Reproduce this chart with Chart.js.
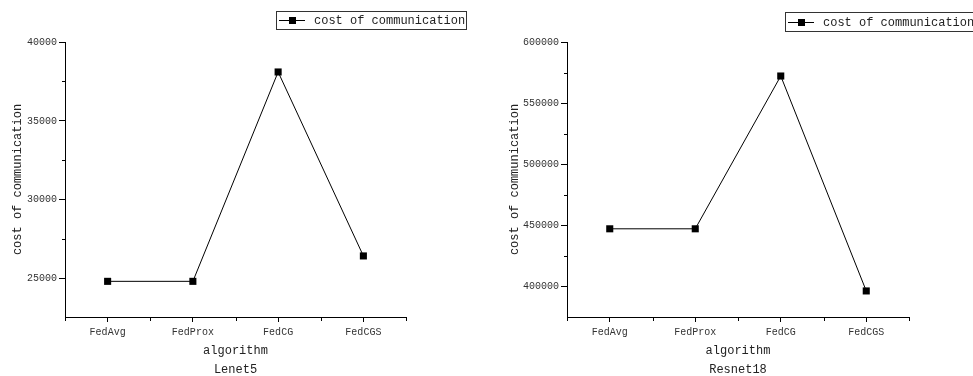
<!DOCTYPE html>
<html>
<head>
<meta charset="utf-8">
<script src="https://cdn.jsdelivr.net/npm/chart.js@4/dist/chart.umd.min.js"></script>
<style>
  html, body { margin: 0; padding: 0; background: #fff; }
  .box { position: absolute; top: 0; height: 376px; }
</style>
</head>
<body>
<div class="box" style="left:0;width:486px"><canvas id="lenet" width="486" height="376"></canvas></div>
<div class="box" style="left:490px;width:483px"><canvas id="resnet" width="483" height="376"></canvas></div>
<script>
// data
const algorithms = ["FedAvg", "FedProx", "FedCG", "FedCGS"];
const lenetCost = [24830, 24830, 38100, 26440];
const resnetCost = [447300, 447300, 572200, 396500];
const lenetTicks = [25000, 30000, 35000, 40000];
const resnetTicks = [400000, 450000, 500000, 550000, 600000];
const seriesName = "cost of communication";

Chart.defaults.font.family = "'Liberation Mono', monospace";
Chart.defaults.color = "#333";

// legend box like origin: —■— text
const boxLegend = {
  id: "boxLegend",
  afterDraw(chart, args, opts) {
    const ctx = chart.ctx;
    const x = opts.x, y = opts.y, h = opts.h, w = 190;
    const mid = y + h / 2;
    ctx.save();
    ctx.strokeStyle = "#333";
    ctx.lineWidth = 1;
    ctx.strokeRect(x + 0.5, y + 0.5, w, h);
    ctx.strokeStyle = "#000";
    ctx.beginPath();
    ctx.moveTo(x + 3, Math.round(mid) + 0.5);
    ctx.lineTo(x + 29, Math.round(mid) + 0.5);
    ctx.stroke();
    ctx.fillStyle = "#000";
    ctx.fillRect(x + 13, Math.round(mid) - 3, 7, 7);
    ctx.fillStyle = "#222";
    ctx.font = "12px 'Liberation Mono', monospace";
    ctx.textBaseline = "middle";
    ctx.fillText(chart.data.datasets[0].label, x + 38, mid + 1);
    ctx.restore();
  }
};

// minor ticks on both axes
const minorTicks = {
  id: "minorTicks",
  afterDraw(chart) {
    const ctx = chart.ctx;
    const xs = chart.scales.x, ys = chart.scales.y;
    ctx.save();
    ctx.strokeStyle = "#000";
    ctx.lineWidth = 1;
    ctx.beginPath();
    // x: category boundaries
    for (let i = 0; i <= algorithms.length; i++) {
      const px = Math.round(xs.getPixelForValue(i - 0.5)) + 0.5;
      ctx.moveTo(px, ys.bottom);
      ctx.lineTo(px, ys.bottom + 4);
    }
    // y: halfway between major ticks
    const vals = ys.ticks.map(t => t.value);
    const step = vals[1] - vals[0];
    for (let v = vals[0] - step / 2; v < ys.max; v += step) {
      if (v < ys.min) continue;
      const py = Math.round(ys.getPixelForValue(v)) + 0.5;
      ctx.moveTo(xs.left, py);
      ctx.lineTo(xs.left - 3, py);
    }
    ctx.stroke();
    ctx.restore();
  }
};

function makeChart(id, values, opt) {
  return new Chart(document.getElementById(id), {
    type: "line",
    data: {
      labels: algorithms,
      datasets: [{
        label: seriesName,
        data: values,
        borderColor: "#000",
        borderWidth: 1,
        pointStyle: "rect",
        pointRadius: 5,
        pointBackgroundColor: "#000",
        pointBorderColor: "#000",
        pointBorderWidth: 0,
        tension: 0
      }]
    },
    options: {
      responsive: false,
      animation: false,
      devicePixelRatio: 1,
      layout: { padding: { top: 42, right: opt.padRight, left: 0, bottom: 0 } },
      plugins: {
        legend: { display: false },
        tooltip: { enabled: false },
        boxLegend: { x: opt.legendX, y: opt.legendY, h: opt.legendH }
      },
      scales: {
        x: {
          type: "category",
          offset: true,
          border: { display: true, color: "#000", width: 1 },
          grid: { display: true, drawOnChartArea: false, offset: false, tickLength: 5, tickColor: "#000" },
          ticks: { font: { size: 10 }, padding: 4, color: "#333", maxRotation: 0 },
          title: {
            display: true,
            text: ["algorithm", opt.model],
            font: { size: 12, lineHeight: "19px" },
            color: "#222",
            padding: { top: 0, bottom: -3 }
          },
          afterFit(scale) { scale.height = 59; }
        },
        y: {
          min: opt.min,
          max: opt.max,
          border: { display: true, color: "#000", width: 1 },
          grid: { display: true, drawOnChartArea: false, tickLength: 6, tickColor: "#000" },
          ticks: {
            font: { size: 10 }, padding: 2, color: "#333",
            callback: v => String(v)
          },
          afterBuildTicks(scale) { scale.ticks = opt.ticks.map(v => ({ value: v })); },
          title: {
            display: true,
            text: seriesName,
            font: { size: 12, lineHeight: "19px" },
            color: "#222",
            padding: { top: opt.titlePad, bottom: 0 }
          },
          afterFit(scale) { scale.width = opt.yWidth; }
        }
      }
    },
    plugins: [boxLegend, minorTicks]
  });
}

makeChart("lenet", lenetCost, {
  model: "Lenet5", min: 22570, max: 40000, ticks: lenetTicks,
  yWidth: 65, titlePad: 8.5, padRight: 80,
  legendX: 276, legendY: 11, legendH: 18
});

makeChart("resnet", resnetCost, {
  model: "Resnet18", min: 375200, max: 600000, ticks: resnetTicks,
  yWidth: 77, titlePad: 15.5, padRight: 64,
  legendX: 295, legendY: 12, legendH: 19
});
</script>
</body>
</html>
